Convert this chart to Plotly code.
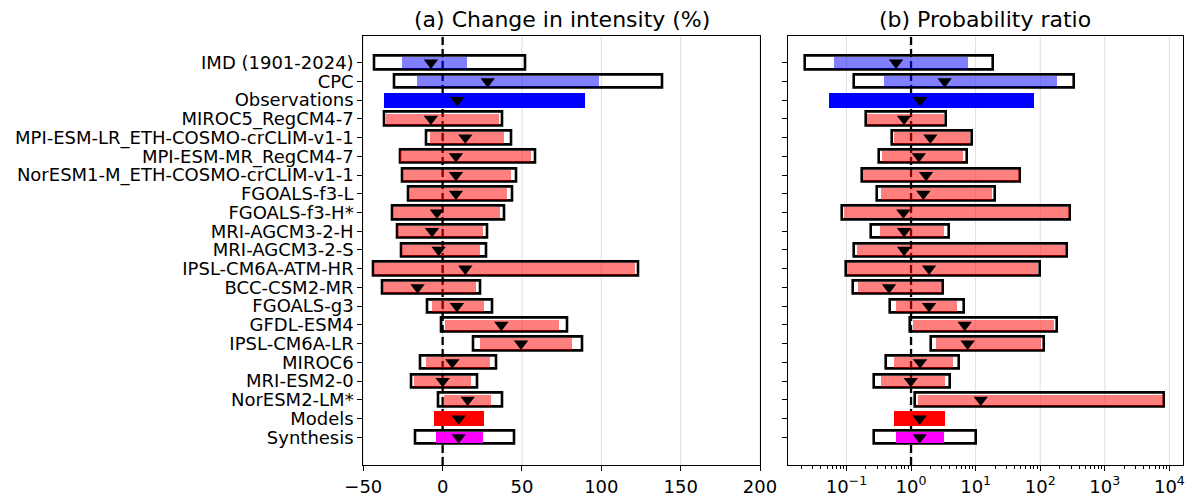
import plotly.graph_objects as go

# ---------------- data ----------------
labels = ["IMD (1901-2024)", "CPC", "Observations", "MIROC5_RegCM4-7",
          "MPI-ESM-LR_ETH-COSMO-crCLIM-v1-1", "MPI-ESM-MR_RegCM4-7",
          "NorESM1-M_ETH-COSMO-crCLIM-v1-1", "FGOALS-f3-L", "FGOALS-f3-H*",
          "MRI-AGCM3-2-H", "MRI-AGCM3-2-S", "IPSL-CM6A-ATM-HR", "BCC-CSM2-MR",
          "FGOALS-g3", "GFDL-ESM4", "IPSL-CM6A-LR", "MIROC6", "MRI-ESM2-0",
          "NorESM2-LM*", "Models", "Synthesis"]
# row kind: obs (individual dataset), obs_syn, model, model_syn, synth
kinds = ["obs", "obs", "obs_syn"] + ["model"] * 16 + ["model_syn", "synth"]

# (a) change in intensity (%)
int_best = [-7.4, 28.4, 9.2, -7.4, 14.3, 8.4, 8.4, 8.4, -3.6, -6.7, -2.5, 14.3,
            -15.8, 9.0, 37.0, 49.4, 6.1, 0.0, 15.8, 10.1, 10.1]
int_lo = [-25.2, -16.0, -36.8, -35.7, -8.0, -26.5, -24.6, -21.0, -31.1, -28.0,
          -25.7, -43.3, -37.4, -6.3, 1.5, 23.5, -10.5, -18.1, 0.8, -5.5, -4.2]
int_hi = [15.5, 98.8, 89.7, 35.7, 38.9, 55.7, 43.1, 40.5, 36.6, 25.8, 23.9,
          121.5, 21.4, 26.2, 73.5, 82.0, 29.8, 18.0, 30.6, 26.2, 25.6]
int_outer_lo = [-43.3, -30.3, None, -36.6, -10.4, -27.0, -25.5, -21.9, -32.0,
                -28.8, -26.3, -44.0, -38.1, -9.5, -0.7, 19.5, -13.9, -19.8,
                -2.8, None, -17.3]
int_outer_hi = [52.2, 138.7, None, 37.4, 43.3, 58.5, 46.5, 44.2, 38.9, 28.0,
                27.3, 123.2, 24.0, 31.5, 78.8, 88.1, 33.9, 22.1, 37.4, None, 45.0]

# (b) probability ratio
pr_best = [0.586, 3.32, 1.38, 0.78, 1.99, 1.32, 1.71, 1.55, 0.76, 0.78, 0.78,
           1.9, 0.456, 1.9, 6.78, 7.53, 1.38, 0.99, 12.0, 1.36, 1.36]
pr_lo = [0.065, 0.378, 0.0545, 0.206, 0.546, 0.352, 0.183, 0.34, 0.0918, 0.331,
         0.144, 0.103, 0.153, 0.586, 1.09, 2.44, 0.546, 0.34, 1.30, 0.552, 0.579]
pr_hi = [7.7, 180, 81, 3.24, 8.2, 6.46, 46.5, 17.7, 282, 3.24, 251, 93.5, 3.02,
         5.21, 165, 102, 4.52, 3.32, 8050, 3.41, 3.24]
pr_outer_lo = [0.023, 0.131, None, 0.199, 0.513, 0.322, 0.174, 0.297, 0.0853,
               0.243, 0.131, 0.098, 0.125, 0.473, 0.953, 2.01, 0.409, 0.264,
               1.14, None, 0.264]
pr_outer_hi = [18.6, 338, None, 3.44, 8.8, 7.35, 48.2, 20.0, 293, 3.84, 264,
               98.4, 3.13, 6.62, 181, 113, 5.61, 3.97, 8360, None, 10.3]

ref_intensity = 0
ref_pr = 1

int_ticks = [-50, 0, 50, 100, 150, 200]
pr_ticks = [0.1, 1, 10, 100, 1000, 10000]
pr_ticktext = ["10<sup>\u22121</sup>", "10<sup>0</sup>", "10<sup>1</sup>",
               "10<sup>2</sup>", "10<sup>3</sup>", "10<sup>4</sup>"]

# ---------------- styling ----------------
FONT = "DejaVu Sans"
W_OUTER, W_INNER, W_PLAIN = 0.72, 0.6, 0.8
GRID = "#dedede"
kind_style = {
    "obs": ("rgba(0,0,255,0.5)", W_INNER),
    "model": ("rgba(255,0,0,0.5)", W_INNER),
    "obs_syn": ("#0000ff", W_PLAIN),
    "model_syn": ("#ff0000", W_PLAIN),
    "synth": ("#ff00ff", W_INNER),
}

FW, FH = 1191, 497


def px_x(p):
    return p / FW


def px_y(p):
    return 1 - p / FH


rows = list(range(len(labels)))
fig = go.Figure()


def add_panel(best, lo, hi, olo, ohi, xa, ya):
    # outer boxes (black outline)
    idx = [i for i in rows if olo[i] is not None]
    fig.add_trace(go.Bar(
        y=[rows[i] for i in idx], base=[olo[i] for i in idx],
        x=[ohi[i] - olo[i] for i in idx], orientation="h", width=W_OUTER,
        marker=dict(color="rgba(255,255,255,0)", line=dict(color="black", width=2.6)),
        xaxis=xa, yaxis=ya, showlegend=False, hoverinfo="skip"))
    # coloured ranges
    for kind, (col, w) in kind_style.items():
        idx = [i for i in rows if kinds[i] == kind]
        fig.add_trace(go.Bar(
            y=[rows[i] for i in idx], base=[lo[i] for i in idx],
            x=[hi[i] - lo[i] for i in idx], orientation="h", width=w,
            marker=dict(color=col, line=dict(width=0)),
            xaxis=xa, yaxis=ya, showlegend=False, hoverinfo="skip"))
    # best estimates
    fig.add_trace(go.Scatter(
        x=best, y=rows, mode="markers",
        marker=dict(symbol="triangle-down", size=12.5, color="black"),
        xaxis=xa, yaxis=ya, showlegend=False, hoverinfo="skip"))


add_panel(int_best, int_lo, int_hi, int_outer_lo, int_outer_hi, "x", "y")
add_panel(pr_best, pr_lo, pr_hi, pr_outer_lo, pr_outer_hi, "x2", "y2")

# vertical grid lines (below everything), then dashed reference lines
for xref, yref, vals in (("x", "y", int_ticks), ("x2", "y2", pr_ticks)):
    for v in vals:
        fig.add_shape(type="line", xref=xref, yref=yref + " domain", x0=v, x1=v,
                      y0=0, y1=1, layer="below", line=dict(color=GRID, width=1))
for xref, yref, xv in (("x", "y", ref_intensity), ("x2", "y2", ref_pr)):
    fig.add_shape(type="line", xref=xref, yref=yref + " domain", x0=xv, x1=xv,
                  y0=0, y1=1, layer="below",
                  line=dict(color="black", width=2.3, dash="8px,4px"))

y_range = [21.48, -1.44]
dom_y = [px_y(465), px_y(35.7)]
axis_common = dict(showline=True, mirror=True, linecolor="black", linewidth=1.1,
                   ticks="outside", ticklen=5, tickwidth=1.1, tickcolor="black",
                   zeroline=False, automargin=False, showgrid=False,
                   ticklabeloverflow="allow",
                   tickfont=dict(family=FONT, size=18, color="black"))

minor_vals = [k * 10 ** e for e in range(-2, 4) for k in range(2, 10)]

fig.update_layout(
    width=FW, height=FH,
    margin=dict(l=0, r=0, t=0, b=0),
    paper_bgcolor="white", plot_bgcolor="white",
    barmode="overlay", bargap=0,
    font=dict(family=FONT, size=18, color="black"),
    xaxis=dict(domain=[px_x(363.3), px_x(760)], range=[-50, 200],
               tickvals=int_ticks, anchor="y", **axis_common),
    yaxis=dict(domain=dom_y, range=y_range, tickvals=rows, ticktext=labels,
               anchor="x", **axis_common),
    xaxis2=dict(domain=[px_x(788), px_x(1182.7)], type="log",
                range=[-1.905, 4.206], tickvals=pr_ticks, ticktext=pr_ticktext,
                anchor="y2",
                minor=dict(tickvals=minor_vals, ticks="outside", ticklen=3,
                           tickwidth=1, tickcolor="black", showgrid=False),
                **axis_common),
    yaxis2=dict(domain=dom_y, range=y_range, tickvals=rows, showticklabels=False,
                anchor="x2", **axis_common),
)

titles = ["(a) Change in intensity (%)", "(b) Probability ratio"]
for xref, t in zip(["x domain", "x2 domain"], titles):
    fig.add_annotation(text=t, xref=xref, x=0.5, yref="paper", y=px_y(19),
                       xanchor="center", yanchor="middle", showarrow=False,
                       font=dict(family=FONT, size=22, color="black"))

# remove the default 8px page margin so the figure sits at the window corner
fig.write_html("out.html",
               config=dict(displayModeBar=False),
               post_script="document.body.style.margin='0';"
                           "document.body.style.overflow='hidden';")
